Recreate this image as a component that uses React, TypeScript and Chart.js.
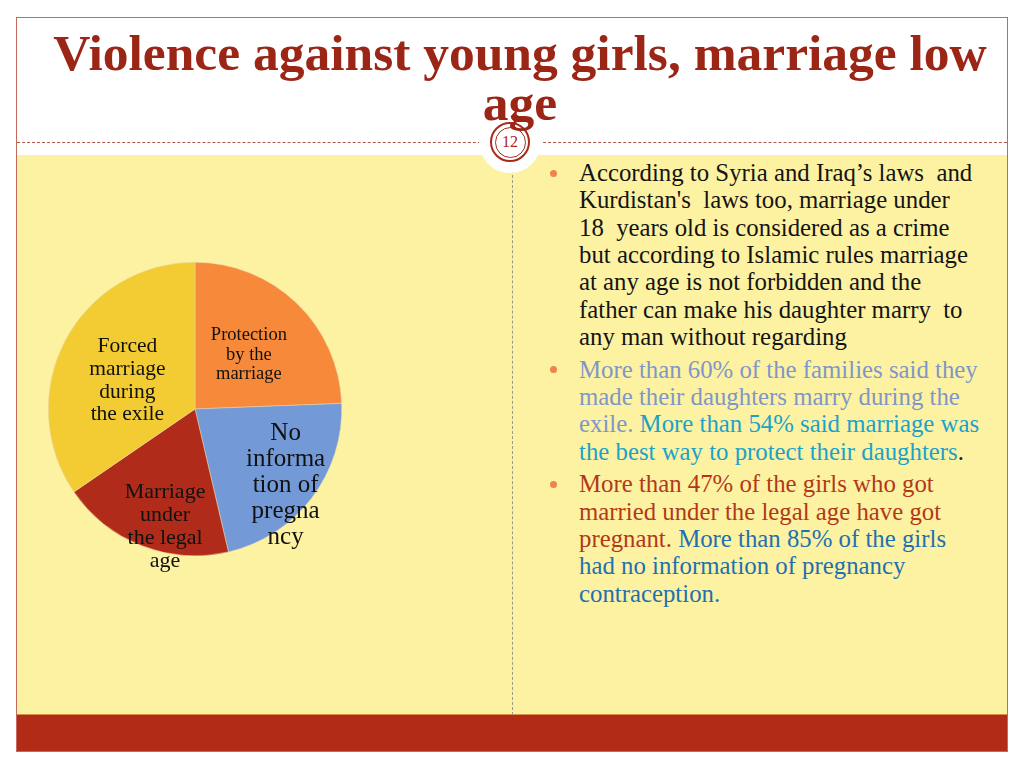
import React, { useEffect, useRef } from "react";
import { Chart, registerables } from "chart.js";

Chart.register(...registerables);

// ---- data ----
const sliceLabels: string[][] = [
  ["Protection", "by the", "marriage"],
  ["No", "informa", "tion of", "pregna", "ncy"],
  ["Marriage", "under", "the legal", "age"],
  ["Forced", "marriage", "during", "the exile"],
];
const sliceValues: number[] = [60, 54, 47, 85];
const sliceColors: string[] = ["#F68A3A", "#7399D6", "#B02B19", "#F3CB33"];

const titleLines: string[] = ["Violence against young girls, marriage low", "age"];
const slideNumber = "12";

type Seg = { t: string; c: string };
const paragraphs: Seg[][][] = [
  [
    [{ t: "According to Syria and Iraq\u2019s laws\u00a0 and", c: "#141414" }],
    [{ t: "Kurdistan's\u00a0 laws too, marriage under", c: "#141414" }],
    [{ t: "18\u00a0 years old is considered as a crime", c: "#141414" }],
    [{ t: "but according to Islamic rules marriage", c: "#141414" }],
    [{ t: "at any age is not forbidden and the", c: "#141414" }],
    [{ t: "father can make his daughter marry\u00a0 to", c: "#141414" }],
    [{ t: "any man without regarding", c: "#141414" }],
  ],
  [
    [{ t: "More than 60% of the families said they", c: "#7F96C9" }],
    [{ t: "made their daughters marry during the", c: "#7F96C9" }],
    [
      { t: "exile. ", c: "#7F96C9" },
      { t: "More than 54% said marriage was", c: "#1AA2CB" },
    ],
    [
      { t: "the best way to protect their daughters", c: "#1AA2CB" },
      { t: ".", c: "#141414" },
    ],
  ],
  [
    [{ t: "More than 47% of the girls who got", c: "#B2381A" }],
    [{ t: "married under the legal age have got", c: "#B2381A" }],
    [
      { t: "pregnant. ", c: "#B2381A" },
      { t: "More than 85% of the girls", c: "#1E70B0" },
    ],
    [{ t: "had no information of pregnancy", c: "#1E70B0" }],
    [{ t: "contraception.", c: "#1E70B0" }],
  ],
];

// label styling per slice (font size, line height, radial fraction, angle nudge in degrees)
const labelStyle = [
  { size: 18.5, lh: 19.5, frac: 0.52, nudge: 1 },
  { size: 25, lh: 26, frac: 0.81, nudge: 3 },
  { size: 22, lh: 23, frac: 0.83, nudge: -7 },
  { size: 21.5, lh: 22.7, frac: 0.5, nudge: -5 },
];

const sliceLabelPlugin = {
  id: "sliceLabels",
  afterDatasetsDraw(chart: any) {
    const ctx = chart.ctx;
    const meta = chart.getDatasetMeta(0);
    meta.data.forEach((arc: any, i: number) => {
      const st = labelStyle[i];
      const mid = (arc.startAngle + arc.endAngle) / 2 + (st.nudge * Math.PI) / 180;
      const r = arc.outerRadius * st.frac;
      const cx = arc.x + Math.cos(mid) * r;
      const cy = arc.y + Math.sin(mid) * r;
      const lines = sliceLabels[i];
      ctx.save();
      ctx.fillStyle = "#111";
      ctx.font = `${st.size}px "Liberation Serif", "DejaVu Serif", serif`;
      ctx.textAlign = "center";
      ctx.textBaseline = "middle";
      const h = (lines.length - 1) * st.lh;
      lines.forEach((ln, k) => {
        ctx.fillText(ln, cx, cy - h / 2 + k * st.lh);
      });
      ctx.restore();
    });
  },
};

function PieChart() {
  const ref = useRef<HTMLCanvasElement | null>(null);
  useEffect(() => {
    if (!ref.current) return;
    const chart = new Chart(ref.current, {
      type: "pie",
      data: {
        labels: sliceLabels.map((l) => l.join(" ")),
        datasets: [
          {
            data: sliceValues,
            backgroundColor: sliceColors,
            borderColor: "#E8D9B0",
            borderWidth: 0.5,
          },
        ],
      },
      options: {
        responsive: false,
        animation: false,
        layout: { padding: 33 },
        plugins: {
          legend: { display: false },
          tooltip: { enabled: false },
        },
      },
      plugins: [sliceLabelPlugin],
    });
    return () => chart.destroy();
  }, []);
  return (
    <canvas
      ref={ref}
      width={360}
      height={360}
      style={{ position: "absolute", left: 15, top: 229, width: 360, height: 360 }}
    />
  );
}

export default function App() {
  const serif = '"Liberation Serif", "DejaVu Serif", serif';
  let lineIdx = 0;
  const lineTops: number[] = [];
  let y = 173;
  paragraphs.forEach((p) => {
    p.forEach(() => {
      lineTops.push(y);
      y += 27.3;
    });
    y += 5.5;
  });
  return (
    <div
      style={{
        position: "absolute",
        left: 0,
        top: 0,
        width: 1024,
        height: 768,
        background: "#ffffff",
        overflow: "hidden",
        fontFamily: serif,
      }}
    >
      {/* yellow content area */}
      <div style={{ position: "absolute", left: 17, top: 155, width: 990, height: 560, background: "#FDF2A1" }} />
      {/* red band */}
      <div style={{ position: "absolute", left: 17, top: 715, width: 990, height: 36, background: "#B22B17" }} />
      <div style={{ position: "absolute", left: 17, top: 714, width: 990, height: 1, background: "#D89048" }} />
      {/* frame */}
      <div
        style={{
          position: "absolute",
          left: 16,
          top: 17,
          width: 990,
          height: 733,
          border: "1px solid #C46A5C",
          boxSizing: "content-box",
        }}
      />
      {/* dotted separator */}
      <div style={{ position: "absolute", left: 17, top: 142, width: 990, height: 0, borderTop: "1.5px dashed #B4584A" }} />
      {/* vertical dashed divider */}
      <div style={{ position: "absolute", left: 512, top: 160, width: 0, height: 555, borderLeft: "1px dashed #9A9A8A" }} />
      {/* halo + number circle */}
      <div
        style={{
          position: "absolute",
          left: 510 - 31,
          top: 142 - 31,
          width: 62,
          height: 62,
          borderRadius: "50%",
          background: "#ffffff",
        }}
      />
      <div
        style={{
          position: "absolute",
          left: 510 - 20,
          top: 142 - 20,
          width: 40,
          height: 40,
          borderRadius: "50%",
          border: "2px solid #A82A1A",
          boxSizing: "border-box",
        }}
      />
      <div
        style={{
          position: "absolute",
          left: 510 - 15.5,
          top: 142 - 15.5,
          width: 31,
          height: 31,
          borderRadius: "50%",
          border: "1.5px solid #A82A1A",
          boxSizing: "border-box",
          display: "flex",
          alignItems: "center",
          justifyContent: "center",
          color: "#A82A1A",
          fontSize: 16,
          fontFamily: serif,
        }}
      >
        {slideNumber}
      </div>
      {/* title */}
      {titleLines.map((t, i) => (
        <div
          key={i}
          style={{
            position: "absolute",
            left: 20,
            top: 27.5 + i * 50,
            width: 1000,
            height: 50,
            textAlign: "center",
            color: "#9B2616",
            fontWeight: "bold",
            fontSize: 51.5,
            lineHeight: "50px",
            fontFamily: serif,
            whiteSpace: "pre",
          }}
        >
          {t}
        </div>
      ))}
      <PieChart />
      {/* bullets text */}
      {paragraphs.map((p, pi) => (
        <React.Fragment key={pi}>
          <div
            style={{
              position: "absolute",
              left: 550,
              top: lineTops[lineIdx] - 3.5,
              width: 7,
              height: 7,
              borderRadius: "50%",
              background: "#F0834A",
            }}
          />
          {p.map((line, li) => {
            const top = lineTops[lineIdx++];
            return (
              <div
                key={li}
                style={{
                  position: "absolute",
                  left: 579,
                  top: top - 14,
                  height: 28,
                  lineHeight: "28px",
                  fontSize: 24.8,
                  whiteSpace: "pre",
                  fontFamily: serif,
                }}
              >
                {line.map((s, si) => (
                  <span key={si} style={{ color: s.c }}>
                    {s.t}
                  </span>
                ))}
              </div>
            );
          })}
        </React.Fragment>
      ))}
    </div>
  );
}
